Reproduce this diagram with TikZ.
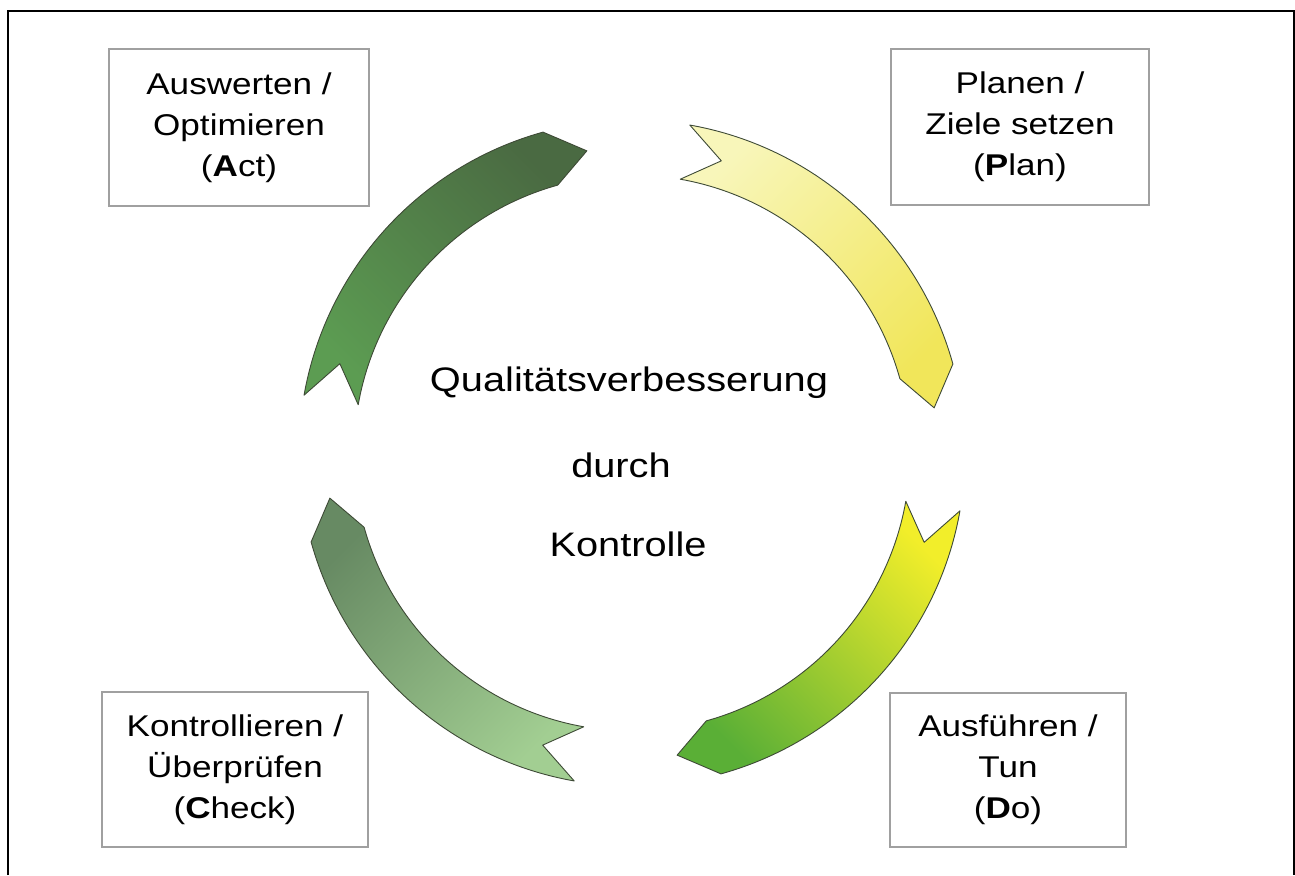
\documentclass[tikz,border=0pt]{standalone}
\usepackage{fontspec}
\newfontfamily\lab{Liberation Sans}[FakeStretch=1.17]
\definecolor{actdark}{HTML}{4A6A42}
\definecolor{actlight}{HTML}{5C9C52}
\definecolor{planpale}{HTML}{F8F6BA}
\definecolor{planyel}{HTML}{F1E65A}
\definecolor{doyel}{HTML}{F2EE2A}
\definecolor{dogreen}{HTML}{5AAF36}
\definecolor{chkdark}{HTML}{678A63}
\definecolor{chklight}{HTML}{A2CE92}
\definecolor{edge}{HTML}{3E4A36}
\definecolor{boxline}{HTML}{A0A0A0}
\tikzset{
  ribbon/.style={draw=edge, line width=0.9pt, line join=round},
  phasebox/.style={draw=boxline, line width=1.5pt, fill=white, align=center,
    inner sep=0pt, font=\lab\fontsize{30}{41}\selectfont},
  centertext/.style={anchor=base, inner sep=0pt, font=\lab\fontsize{34}{40}\selectfont},
}
\newcommand{\ringarrow}[2]{%
  \path[ribbon,#2] (#1:333) arc[start angle=#1, end angle=#1-64.5, radius=333]
    -- (#1-71.5:305.5) -- (#1-64.5:278)
    arc[start angle=#1-64.5, end angle=#1, radius=278]
    -- (#1-7:305.5) -- cycle;}
\begin{document}
\begin{tikzpicture}[x=1pt,y=1pt]
\useasboundingbox (0,0) rectangle (1295,875);
\fill[white] (0,0) rectangle (1295,875);
% outer frame
\draw[line width=2pt] (8,0) -- (8,864) -- (1293.5,864) -- (1293.5,0);
% ring arrows
\begin{scope}[shift={(632,422)}]
  \ringarrow{170}{top color=actdark, bottom color=actlight, shading angle=-45}
  \ringarrow{80}{top color=planpale, bottom color=planyel, shading angle=45}
  \ringarrow{-10}{top color=doyel, bottom color=dogreen, shading angle=-45}
  \ringarrow{-100}{top color=chkdark, bottom color=chklight, shading angle=45}
\end{scope}
% boxes
\node[phasebox, minimum width=260pt, minimum height=157pt] (act) at (239,747.5)
  {Auswerten /\\Optimieren\\(\textbf{A}ct)};
\node[phasebox, minimum width=258pt, minimum height=156pt] (plan) at (1020,748)
  {Planen /\\Ziele setzen\\(\textbf{P}lan)};
\node[phasebox, minimum width=236pt, minimum height=154pt] (do) at (1008,105)
  {Ausführen /\\Tun\\(\textbf{D}o)};
\node[phasebox, minimum width=266pt, minimum height=155pt] (check) at (235,105.5)
  {Kontrollieren /\\Überprüfen\\(\textbf{C}heck)};
% center text
\node[centertext] (q) at (629,483) {Qualitätsverbesserung};
\node[centertext] (d) at (621,397) {durch};
\node[centertext] (k) at (628,318) {Kontrolle};
\end{tikzpicture}
\end{document}
